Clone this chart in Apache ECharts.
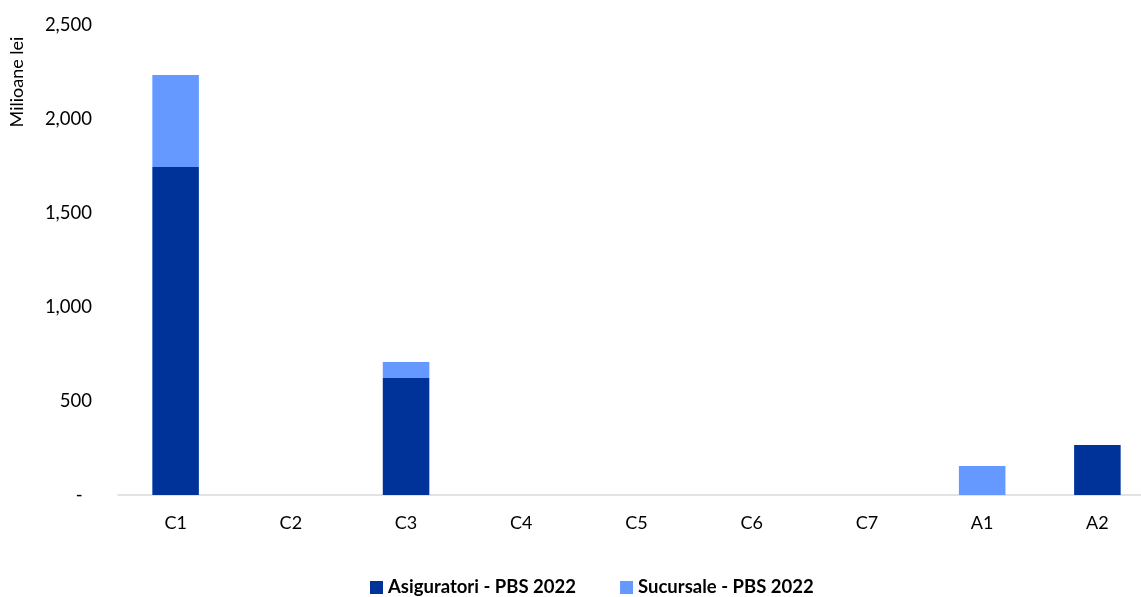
<!DOCTYPE html>
<html>
<head>
<meta charset="utf-8">
<script src="https://cdn.jsdelivr.net/npm/echarts@6/dist/echarts.min.js"></script>
<style>html,body{margin:0;padding:0;background:#fff;overflow:hidden;width:1141px;height:597px}#c{width:1155px;height:597px}</style>
</head>
<body>
<div id="c"></div>
<script>
var categories = ['C1','C2','C3','C4','C5','C6','C7','A1','A2'];
var asiguratori = [1745, 0, 622, 0, 0, 0, 0, 0, 266];
var sucursale = [489, 0, 85, 0, 0, 0, 0, 154, 0];
var seriesNames = ['Asiguratori - PBS 2022', 'Sucursale - PBS 2022'];
var yTicks = [0, 500, 1000, 1500, 2000, 2500];
var yAxisTitle = 'Milioane lei';

var FONT = 'Lato, "Open Sans", sans-serif';
var chart = echarts.init(document.getElementById('c'), null, {renderer: 'canvas'});
chart.setOption({
  animation: false,
  textStyle: {fontFamily: FONT},
  grid: {left: 118, right: 0, top: 25, bottom: 102, containLabel: false},
  legend: {
    top: 573, left: 365,
    itemWidth: 13, itemHeight: 13, itemGap: 44,
    icon: 'rect',
    textStyle: {fontFamily: FONT, fontSize: 18.5, fontWeight: 'bold', color: '#000'},
    data: seriesNames
  },
  graphic: [{
    type: 'text', x: 17, y: 82, rotation: Math.PI / 2,
    style: {text: yAxisTitle, fontFamily: FONT, fontSize: 18, fill: '#000', align: 'center', verticalAlign: 'middle'}
  }],
  xAxis: {
    type: 'category', data: categories,
    axisLine: {lineStyle: {color: '#d9d9d9', width: 1.5}},
    axisTick: {show: false},
    axisLabel: {color: '#000', fontSize: 18, margin: 19, fontFamily: FONT}
  },
  yAxis: {
    type: 'value', min: yTicks[0], max: yTicks[yTicks.length - 1], interval: 500,
    splitLine: {show: false},
    axisLine: {show: false}, axisTick: {show: false},
    axisLabel: {
      color: '#000', fontSize: 18.5, margin: 26, fontFamily: FONT,
      formatter: function (v) { return v === 0 ? '-  ' : v.toLocaleString('en-US'); }
    }
  },
  series: [
    {name: seriesNames[0], type: 'bar', stack: 's', data: asiguratori, barWidth: '40.4%', itemStyle: {color: '#003399'}},
    {name: seriesNames[1], type: 'bar', stack: 's', data: sucursale, barWidth: '40.4%', itemStyle: {color: '#6699FF'}}
  ]
});
</script>
</body>
</html>
